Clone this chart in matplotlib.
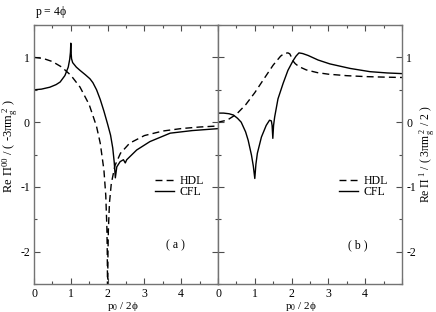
import matplotlib
matplotlib.use("Agg")
import matplotlib.pyplot as plt
from matplotlib.ticker import MultipleLocator

plt.rcParams['font.family'] = ['Liberation Serif', 'DejaVu Serif']
plt.rcParams['mathtext.fontset'] = 'custom'
plt.rcParams['mathtext.rm'] = 'Liberation Serif'
plt.rcParams['mathtext.it'] = 'Liberation Serif:italic'
plt.rcParams['mathtext.default'] = 'regular'
plt.rcParams['axes.unicode_minus'] = False

# (a) longitudinal part, HDL (dashed) and CFL (solid)
hdl_a_x = [0.0, 0.25, 0.5, 0.75, 1.0, 1.25, 1.5, 1.7, 1.8, 1.9, 1.95, 1.98, 1.99, 1.995, 1.999,
           2.001, 2.005, 2.01, 2.02, 2.05, 2.1, 2.2, 2.35, 2.6, 3.0, 3.5, 4.0, 4.5, 5.0]
hdl_a_y = [1.0, 0.984, 0.936, 0.852, 0.725, 0.542, 0.270, -0.068, -0.325, -0.74, -1.13, -1.62, -1.98, -2.33, -3.14,
           -3.15, -2.35, -2.01, -1.68, -1.25, -0.95, -0.67, -0.48, -0.324, -0.207, -0.137, -0.099, -0.075, -0.059]

cfl_a_x = [0.0, 0.2, 0.43, 0.6, 0.71, 0.84, 0.93, 0.97, 0.99, 0.995, 1.0, 1.005, 1.02, 1.05, 1.15, 1.25,
           1.4, 1.52, 1.6, 1.7, 1.8, 1.9, 2.0, 2.08, 2.14, 2.18, 2.21, 2.25, 2.34, 2.43, 2.48, 2.52,
           2.79, 3.15, 3.7, 4.3, 5.0]
cfl_a_y = [0.50, 0.51, 0.54, 0.58, 0.62, 0.72, 0.85, 0.97, 1.08, 1.15, 1.22, 1.10, 0.98, 0.92, 0.85, 0.80,
           0.73, 0.67, 0.61, 0.50, 0.35, 0.17, -0.03, -0.20, -0.40, -0.62, -0.86, -0.69, -0.61, -0.58, -0.63, -0.58,
           -0.43, -0.30, -0.17, -0.13, -0.10]

# (b) transverse part
hdl_b_x = [0.0, 0.25, 0.5, 0.75, 1.0, 1.25, 1.5, 1.7, 1.8, 1.9, 1.95, 2.0, 2.05, 2.1, 2.2,
           2.4, 2.7, 3.0, 3.5, 4.0, 4.5, 5.0]
hdl_b_y = [0.0, 0.031, 0.122, 0.268, 0.456, 0.670, 0.882, 1.019, 1.062, 1.07, 1.056, 1.0, 0.937, 0.903, 0.858,
           0.807, 0.765, 0.741, 0.718, 0.704, 0.696, 0.690]

cfl_b_x = [0.0, 0.15, 0.3, 0.42, 0.53, 0.63, 0.75, 0.82, 0.91, 0.96, 1.0, 1.03, 1.07, 1.18, 1.31, 1.40, 1.45,
           1.47, 1.49, 1.51, 1.54, 1.63, 1.77, 1.90, 2.04, 2.12, 2.2, 2.3, 2.45, 2.72, 3.04, 3.59,
           4.13, 4.6, 5.0]
cfl_b_y = [0.14, 0.14, 0.13, 0.11, 0.06, 0.0, -0.15, -0.28, -0.51, -0.68, -0.87, -0.65, -0.48, -0.23, -0.05, 0.03, 0.02,
           -0.05, -0.25, -0.05, 0.08, 0.36, 0.60, 0.80, 0.95, 1.02, 1.07, 1.06, 1.03, 0.96, 0.90, 0.83,
           0.78, 0.76, 0.75]

xtick_vals = [0, 1, 2, 3, 4, 5]
xtick_labels = ['0', '1', '2', '3', '4', '']
ytick_vals = [-2, -1, 0, 1]

fig = plt.figure(figsize=(4.36, 3.12), dpi=100)
ax_a = fig.add_axes([0.078, 0.0897, 0.422, 0.830])
ax_b = fig.add_axes([0.500, 0.0897, 0.422, 0.830])

for ax in (ax_a, ax_b):
    ax.set_xlim(0, 5)
    ax.set_ylim(-2.5, 1.5)
    ax.set_xticks(xtick_vals)
    ax.set_xticklabels(xtick_labels)
    ax.set_yticks(ytick_vals)
    ax.xaxis.set_minor_locator(MultipleLocator(0.5))
    ax.yaxis.set_minor_locator(MultipleLocator(0.5))
    ax.tick_params(which='both', direction='in', top=True, right=True, left=True, bottom=True,
                   color='0.3', width=0.8, labelsize=8.5, pad=3)
    ax.tick_params(which='major', length=4)
    ax.tick_params(which='minor', length=2.5)
    for s in ax.spines.values():
        s.set_color('0.45')
        s.set_linewidth(1.0)
    ax.set_xlabel(r'p$_0$ / 2$\phi$', fontsize=8)

ax_a.xaxis.set_label_coords(0.485, -0.06)
ax_b.xaxis.set_label_coords(0.45, -0.06)

ax_b.tick_params(which='both', labelleft=False, labelright=True)

ax_a.plot(hdl_a_x, hdl_a_y, color='black', lw=1.0, dashes=(5, 3), label='HDL')
ax_a.plot(cfl_a_x, cfl_a_y, color='black', lw=1.0, label='CFL')
ax_b.plot(hdl_b_x, hdl_b_y, color='black', lw=1.0, dashes=(5, 3), label='HDL')
ax_b.plot(cfl_b_x, cfl_b_y, color='black', lw=1.0, label='CFL')

for ax in (ax_a, ax_b):
    ax.legend(loc='upper left', bbox_to_anchor=(0.63, 0.44), frameon=False, fontsize=8.5,
              handlelength=1.6, handletextpad=0.5, labelspacing=-0.05, borderaxespad=0)

ax_a.text(0.77, 0.15, '( a )', transform=ax_a.transAxes, fontsize=8.5, ha='center', va='center')
ax_b.text(0.76, 0.15, '( b )', transform=ax_b.transAxes, fontsize=8.5, ha='center', va='center')

ax_a.set_ylabel(r'Re $\Pi^{00}$ / ( -3$\pi m_g^{\ 2}$ )', fontsize=9)
ax_a.yaxis.set_label_coords(-0.075, 0.535)
ax_b.yaxis.set_label_position('right')
ax_b.set_ylabel(r'Re $\Pi^{\ 1}$ / ( 3$\pi m_g^{\ 2}$ / 2 )', fontsize=8.5, rotation=90)
ax_b.yaxis.set_label_coords(1.085, 0.5)

fig.text(0.08, 0.962, r'p = 4$\phi$', fontsize=8.5, ha='left', va='center')

fig.savefig('out.png', dpi=100)
